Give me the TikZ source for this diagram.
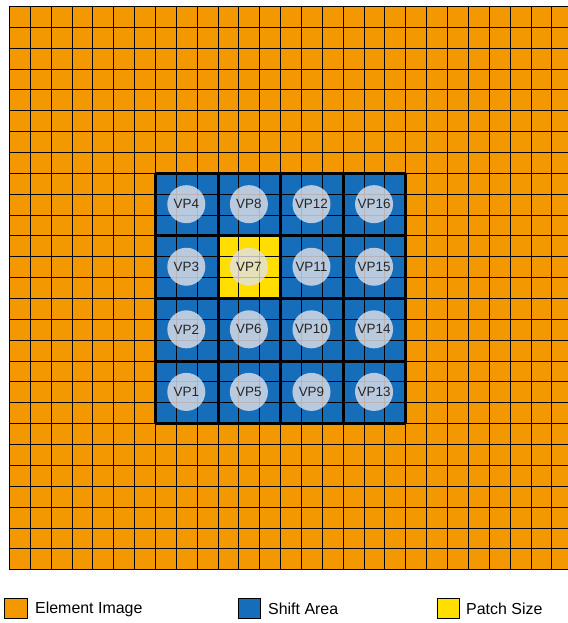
\documentclass[tikz,border=0pt]{standalone}
\usepackage{fontspec}
\setmainfont{Liberation Sans}
\definecolor{elemcol}{RGB}{243,152,0}
\definecolor{shiftcol}{RGB}{22,110,186}
\definecolor{patchcol}{RGB}{255,222,0}
\definecolor{vpfill}{RGB}{226,226,232}
\begin{document}
\begin{tikzpicture}[x=1bp,y=-1bp,
  gridline/.style={black,line width=1.2bp},
  blockline/.style={black,line width=2.6bp},
  vp/.style={circle,minimum size=38bp,inner sep=0pt,fill=vpfill,fill opacity=0.8,text opacity=1,
    text=black!85,font=\fontsize{13.5}{15}\selectfont},
  legbox/.style={draw=black,line width=1bp,minimum width=22bp,minimum height=20bp,inner sep=0pt},
  legtext/.style={anchor=west,inner sep=0pt,font=\fontsize{16}{18}\selectfont}]
\useasboundingbox (0,0) rectangle (568,623);
\def\s{20.86}
\begin{scope}
\clip (0,0) rectangle (568,623);
\fill[elemcol] (9,6) rectangle ({9+27*\s},{6+27*\s});
\fill[shiftcol] ({9+7*\s},{6+8*\s}) rectangle ({9+19*\s},{6+20*\s});
\fill[patchcol] ({9+10*\s},{6+11*\s}) rectangle ({9+13*\s},{6+14*\s});
\foreach \i in {0,...,27} {
  \pgfmathsetmacro\xx{round(9+\i*\s)+0.5}
  \pgfmathsetmacro\yy{round(6+\i*\s)+0.5}
  \draw[gridline] (\xx,6) -- (\xx,{6+27*\s});
  \draw[gridline] (9,\yy) -- ({9+27*\s},\yy);
}
\foreach \i in {0,...,4} {
  \pgfmathsetmacro\xx{round(9+(7+3*\i)*\s)+0.5}
  \pgfmathsetmacro\yy{round(6+(8+3*\i)*\s)+0.5}
  \draw[blockline] (\xx,{6+8*\s}) -- (\xx,{6+20*\s});
  \draw[blockline] ({9+7*\s},\yy) -- ({9+19*\s},\yy);
}
\foreach \c in {0,...,3} {
  \foreach \r in {0,...,3} {
    \pgfmathtruncatemacro\n{4*\c+\r+1}
    \node[vp] (vp\n) at ({9+(8.5+3*\c)*\s},{6+(18.5-3*\r)*\s}) {VP\n};
  }
}
\end{scope}
\node[legbox,fill=elemcol] (lgelem) at (16,608) {};
\node[legtext] (txelem) at (35,609) {Element Image};
\node[legbox,fill=shiftcol] (lgshift) at (249,608) {};
\node[legtext] (txshift) at (268,609) {Shift Area};
\node[legbox,fill=patchcol] (lgpatch) at (448,608) {};
\node[legtext] (txpatch) at (466,609) {Patch Size};
\end{tikzpicture}
\end{document}
